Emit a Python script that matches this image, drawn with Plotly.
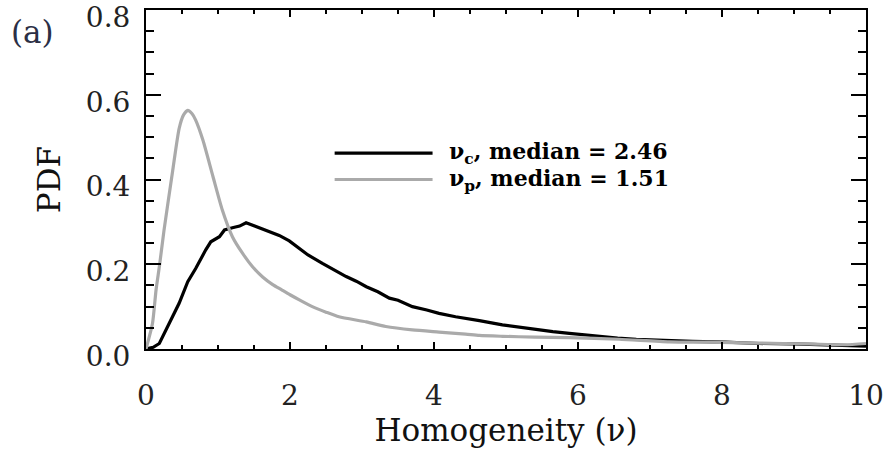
import plotly.graph_objects as go

# Homogeneity PDFs for the two populations
nu_c_x = [0, 0.1, 0.185, 0.32, 0.46, 0.58, 0.69, 0.83, 0.90, 1.02, 1.09, 1.2, 1.3, 1.39,
          1.53, 1.71, 1.85, 1.99, 2.08, 2.25, 2.45, 2.62, 2.78, 2.92, 3.06, 3.22, 3.33,
          3.38, 3.5, 3.7, 3.9, 4.07, 4.3, 4.49, 4.63, 4.95, 5.2, 5.42, 5.65, 5.88, 6.1,
          6.34, 6.55, 6.81, 7.17, 7.59, 8.05, 8.52, 9.0, 9.5, 9.9, 10.0]
nu_c_pdf = [0, 0.004, 0.013, 0.06, 0.108, 0.159, 0.19, 0.234, 0.253, 0.265, 0.281, 0.286,
            0.29, 0.298, 0.289, 0.277, 0.268, 0.255, 0.243, 0.222, 0.202, 0.186, 0.171,
            0.16, 0.147, 0.135, 0.126, 0.12, 0.115, 0.10, 0.092, 0.084, 0.076, 0.071,
            0.067, 0.057, 0.051, 0.046, 0.041, 0.037, 0.033, 0.029, 0.026, 0.023, 0.020,
            0.018, 0.016, 0.013, 0.012, 0.010, 0.008, 0.007]

nu_p_x = [0, 0.09, 0.14, 0.19, 0.25, 0.37, 0.46, 0.52, 0.58, 0.64, 0.69, 0.79, 0.93, 1.06,
          1.2, 1.34, 1.48, 1.62, 1.76, 1.88, 2.0, 2.13, 2.31, 2.5, 2.68, 3.06, 3.33, 3.7,
          4.07, 4.44, 4.63, 4.95, 5.4, 5.88, 6.57, 7.27, 7.8, 8.5, 9.2, 9.7, 10.0]
nu_p_pdf = [0, 0.06, 0.14, 0.20, 0.28, 0.42, 0.52, 0.552, 0.563, 0.555, 0.54, 0.493, 0.407,
            0.328, 0.265, 0.226, 0.194, 0.170, 0.152, 0.140, 0.128, 0.116, 0.10, 0.087,
            0.076, 0.064, 0.053, 0.045, 0.040, 0.035, 0.032, 0.030, 0.028, 0.027, 0.023,
            0.017, 0.016, 0.014, 0.012, 0.010, 0.013]

legend_labels = ["ν<sub>c</sub>, median = 2.46", "ν<sub>p</sub>, median = 1.51"]
line_colors = ["#000000", "#aaaaaa"]

FONT = "DejaVu Serif"

fig = go.Figure()
fig.add_trace(go.Scatter(x=nu_c_x, y=nu_c_pdf, mode="lines", showlegend=False,
                         line=dict(color=line_colors[0], width=3.2)))
fig.add_trace(go.Scatter(x=nu_p_x, y=nu_p_pdf, mode="lines", showlegend=False,
                         line=dict(color=line_colors[1], width=3.2, shape="spline",
                                   smoothing=0.6)))

# in-plot key: long line samples with labels
key_y = [0.578, 0.50]
for lab, col, ky in zip(legend_labels, line_colors, key_y):
    fig.add_shape(type="line", xref="paper", yref="paper", x0=0.262, x1=0.398, y0=ky, y1=ky,
                  line=dict(color=col, width=3.2))
    fig.add_annotation(xref="paper", yref="paper", x=0.418, y=ky, text=lab, showarrow=False,
                       xanchor="left", yanchor="middle",
                       font=dict(family=FONT, size=22, color="#000000", weight="bold"))

fig.add_annotation(xref="paper", yref="paper", x=-0.19, y=0.935, text="(a)", showarrow=False,
                   xanchor="left", yanchor="middle",
                   font=dict(family=FONT, size=31, color="#2b2f45"))

axis_common = dict(showline=True, mirror="ticks", linecolor="black", linewidth=2,
                   ticks="inside", tickcolor="black", tickwidth=2, showgrid=False,
                   zeroline=False, automargin=False, ticklabeloverflow="allow",
                   tickfont=dict(family=FONT, size=28, color="#222222"))

fig.update_xaxes(range=[0, 10], dtick=2, tick0=0, ticklen=7, ticklabelstandoff=20,
                 minor=dict(dtick=0.5, ticks="inside", ticklen=4, tickwidth=2, tickcolor="black"),
                 title=dict(text="Homogeneity (ν)", font=dict(family=FONT, size=31, color="#111111"),
                            standoff=0),
                 **axis_common)
fig.update_yaxes(range=[0, 0.8], dtick=0.2, tick0=0, tickformat=".1f", ticklen=15,
                 ticklabelstandoff=8, ticklabelshift=7,
                 minor=dict(dtick=0.05, ticks="inside", ticklen=8, tickwidth=2, tickcolor="black"),
                 title=dict(text="PDF", font=dict(family=FONT, size=31, color="#111111"),
                            standoff=16),
                 **axis_common)

fig.update_layout(width=889, height=449, margin=dict(l=146, r=23, t=10, b=100),
                  plot_bgcolor="white", paper_bgcolor="white", showlegend=False)

fig.write_html("out.html")
